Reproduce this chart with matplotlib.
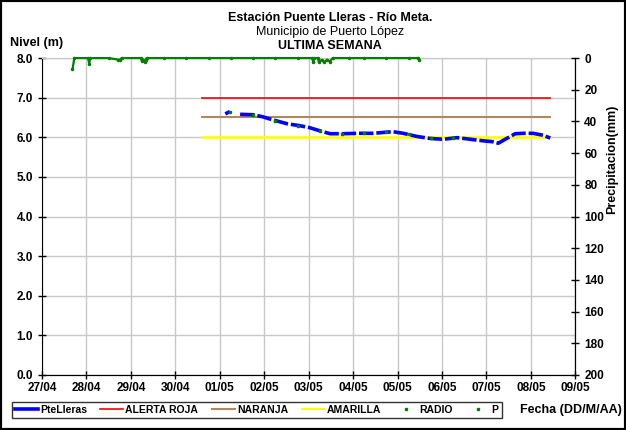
import matplotlib
matplotlib.use("Agg")
import matplotlib.pyplot as plt
import matplotlib.dates as mdates
from matplotlib.lines import Line2D
from matplotlib.patches import Rectangle
import numpy as np
import pandas as pd

plt.rcParams['font.family'] = ['Liberation Sans', 'DejaVu Sans']
plt.rcParams['font.weight'] = 'bold'

# nivel PteLleras (m)
nivel_t = ["2012-05-01 03:00", "2012-05-01 05:30", "2012-05-01 08:00", "2012-05-01 11:00",
           "2012-05-01 18:00", "2012-05-01 23:00", "2012-05-02 03:10", "2012-05-02 07:00",
           "2012-05-02 12:30", "2012-05-02 19:30", "2012-05-03 00:45", "2012-05-03 06:15",
           "2012-05-03 11:35", "2012-05-03 18:40", "2012-05-04 02:10", "2012-05-04 10:50",
           "2012-05-04 18:25", "2012-05-04 21:40", "2012-05-05 03:05", "2012-05-05 10:35",
           "2012-05-05 17:35", "2012-05-06 00:40", "2012-05-06 08:15", "2012-05-06 15:20",
           "2012-05-06 22:20", "2012-05-07 03:10", "2012-05-07 06:25", "2012-05-07 10:10",
           "2012-05-07 15:35", "2012-05-07 19:55", "2012-05-08 01:15", "2012-05-08 06:40",
           "2012-05-08 10:30"]
nivel = [6.59, 6.65, np.nan, 6.58, 6.57, 6.52, 6.46, 6.41, 6.34, 6.29, 6.24, 6.16,
         6.09, 6.09, 6.10, 6.10, 6.13, 6.14, 6.10, 6.02, 5.97, 5.95, 5.99, 5.95,
         5.91, 5.89, 5.85, 5.95, 6.09, 6.10, 6.10, 6.05, 5.98]

# lecturas de radio
radio_t = ["2012-05-01 05:30", "2012-05-01 18:00", "2012-05-02 06:00", "2012-05-02 18:00",
           "2012-05-03 06:00", "2012-05-03 18:00", "2012-05-04 06:00", "2012-05-04 18:00",
           "2012-05-05 06:00", "2012-05-05 18:00", "2012-05-06 06:00"]
radio = [6.65, 6.57, 6.42, 6.29, 6.16, 6.09, 6.10, 6.13, 6.08, 5.97, 5.98]

# umbrales de alerta
alerta_t = ["2012-04-30 14:30", "2012-05-08 10:30"]
roja = [7.0, 7.0]
naranja = [6.5, 6.5]
amarilla = [6.0, 6.0]

# precipitacion (mm)
p_t = ["2012-04-27 16:30", "2012-04-27 17:30", "2012-04-28 01:00", "2012-04-28 01:30",
       "2012-04-28 02:00", "2012-04-28 12:00", "2012-04-28 17:00", "2012-04-28 18:00",
       "2012-04-28 19:00", "2012-04-29 05:30", "2012-04-29 06:00", "2012-04-29 06:45",
       "2012-04-29 07:30", "2012-04-29 08:00", "2012-04-29 08:30", "2012-04-29 18:00",
       "2012-04-30 06:00", "2012-04-30 18:00", "2012-05-01 06:00", "2012-05-01 18:00",
       "2012-05-02 06:00", "2012-05-02 18:00", "2012-05-03 02:00", "2012-05-03 02:30",
       "2012-05-03 03:00", "2012-05-03 05:00", "2012-05-03 05:30", "2012-05-03 07:00",
       "2012-05-03 08:30", "2012-05-03 10:00", "2012-05-03 11:30", "2012-05-03 13:00",
       "2012-05-03 22:00", "2012-05-04 06:00", "2012-05-04 18:00", "2012-05-05 06:00",
       "2012-05-05 11:00", "2012-05-05 11:45"]
p = [7.0, 0, 0, 3.8, 0, 0, 1.0, 1.2, 0, 0, 2.0, 1.0, 2.5, 1.5, 0, 0,
     0, 0, 0, 0, 0, 0, 0, 2.8, 0, 0, 2.5, 1.2, 2.5, 1.0, 2.2, 0,
     0, 0, 0, 0, 0, 1.2]

nivel_t = pd.to_datetime(nivel_t)
radio_t = pd.to_datetime(radio_t)
alerta_t = pd.to_datetime(alerta_t)
p_t = pd.to_datetime(p_t)

fig = plt.figure(figsize=(6.26, 4.30), dpi=100)
ax = fig.add_axes([0.067, 0.128, 0.852, 0.737])
ax2 = ax.twinx()

ax.plot(alerta_t, roja, color='#ff0000', lw=1.2, label='ALERTA ROJA')
ax.plot(alerta_t, naranja, color='#b0875e', lw=1.5, label='NARANJA')
ax.plot(alerta_t, amarilla, color='#ffff00', lw=1.8, label='AMARILLA')
ax.plot(nivel_t, nivel, color='#0000ff', lw=2.6, ls=(0, (4, 0.8)), label='PteLleras')
ax.plot(radio_t, radio, 's', color='#008000', ms=2, label='RADIO')

ax2.plot(p_t, p, '-', color='#008000', lw=1.6, marker='o', ms=1.5, clip_on=False,
         zorder=5, label='P')

x0 = pd.Timestamp("2012-04-27")
x1 = pd.Timestamp("2012-05-09")
ax.set_xlim(x0, x1)
ax.set_ylim(0, 8)
ax.set_yticks(np.arange(0, 8.1, 1.0))
ax.yaxis.set_major_formatter(matplotlib.ticker.FormatStrFormatter('%.1f'))
ax2.set_ylim(200, 0)
ax2.set_yticks(np.arange(0, 201, 20))

ax.xaxis.set_major_locator(mdates.DayLocator())
ax.xaxis.set_major_formatter(mdates.DateFormatter('%d/%m'))

ax.grid(True, color='#c8c8c8', lw=1)
ax.set_axisbelow(True)

for a in (ax, ax2):
    a.tick_params(direction='inout', length=6, width=1, labelsize=8.5, colors='black')
    a.spines['top'].set_color('#c8c8c8')
    a.spines['top'].set_zorder(0.5)
ax.tick_params(axis='x', pad=2)
ax2.spines['left'].set_visible(False)

fig.text(0.978, 0.63, 'Precipitacion(mm)', fontsize=9, fontweight='bold',
         rotation=90, ha='center', va='center')
fig.text(0.016, 0.900, 'Nivel (m)', fontsize=9, fontweight='bold', va='center')
fig.text(0.527, 0.958, 'Estación Puente Lleras - Río Meta.', fontsize=9, fontweight='bold', ha='center', va='center')
fig.text(0.527, 0.925, 'Municipio de Puerto López', fontsize=9, fontweight='normal', ha='center', va='center')
fig.text(0.527, 0.893, 'ULTIMA SEMANA', fontsize=9, fontweight='bold', ha='center', va='center')
fig.text(0.993, 0.046, 'Fecha (DD/M/AA)', fontsize=9, fontweight='bold', ha='right', va='center')

handles = [
    Line2D([], [], color='#0000ff', lw=2.6),
    Line2D([], [], color='#ff0000', lw=1.2),
    Line2D([], [], color='#b0875e', lw=1.5),
    Line2D([], [], color='#ffff00', lw=1.5),
    Line2D([], [], ls='none', marker='s', color='#008000', ms=2),
    Line2D([], [], ls='none', marker='s', color='#008000', ms=2),
]
labels = ['PteLleras', 'ALERTA ROJA', 'NARANJA', 'AMARILLA', 'RADIO', 'P']
leg = fig.legend(handles, labels, loc='center', bbox_to_anchor=(0.41, 0.047), ncol=6,
                 fontsize=7.5, frameon=True, fancybox=False, edgecolor='black',
                 handlelength=2.2, handletextpad=0.2, columnspacing=1.3,
                 borderpad=0.3)
leg.get_frame().set_linewidth(1.0)

fig.patches.append(Rectangle((0, 0), 1, 1, transform=fig.transFigure, fill=False,
                             edgecolor='black', lw=3))

fig.savefig('out.png', dpi=100)
